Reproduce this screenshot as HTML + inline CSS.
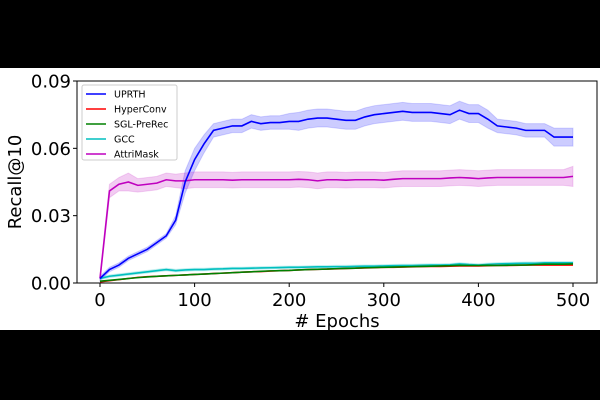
<!DOCTYPE html>
<html><head><meta charset="utf-8"><style>
html,body{margin:0;padding:0;background:#000;}
svg{display:block;font-family:"DejaVu Sans","Liberation Sans",sans-serif;}
</style></head><body>
<svg id="chart" width="600" height="400">
<rect x="0" y="68" width="600" height="262" fill="#fff"/>
<g id="bands"></g><g id="lines"></g><g id="axes"></g>
</svg>
<script>
const epochs=[0,10,20,30,40,50,60,70,80,90,100,110,120,130,140,150,160,170,180,190,200,210,220,230,240,250,260,270,280,290,300,310,320,330,340,350,360,370,380,390,400,410,420,430,440,450,460,470,480,490,500];
const uprth=[0.002,0.006,0.008,0.011,0.013,0.015,0.018,0.021,0.028,0.045,0.055,0.062,0.068,0.069,0.070,0.070,0.072,0.071,0.0715,0.0715,0.072,0.072,0.073,0.0735,0.0735,0.073,0.0725,0.0725,0.074,0.075,0.0755,0.076,0.0765,0.076,0.076,0.076,0.0755,0.075,0.077,0.0755,0.0755,0.073,0.070,0.0695,0.069,0.068,0.068,0.068,0.065,0.065,0.065];
const uprthErr=[0.001,0.001,0.001,0.001,0.001,0.001,0.001,0.001,0.002,0.005,0.005,0.004,0.003,0.003,0.003,0.003,0.003,0.003,0.003,0.003,0.0035,0.004,0.004,0.004,0.004,0.004,0.004,0.004,0.004,0.004,0.004,0.004,0.004,0.004,0.004,0.004,0.004,0.004,0.004,0.004,0.004,0.004,0.003,0.003,0.003,0.003,0.003,0.003,0.004,0.004,0.004];
const attri=[0.002,0.041,0.044,0.045,0.0435,0.044,0.0445,0.046,0.0455,0.0455,0.046,0.046,0.046,0.046,0.0458,0.046,0.046,0.046,0.046,0.046,0.046,0.0462,0.046,0.0455,0.046,0.046,0.0458,0.046,0.046,0.046,0.0458,0.0462,0.0465,0.0465,0.0465,0.0465,0.0465,0.0468,0.047,0.0468,0.0465,0.0468,0.047,0.047,0.047,0.047,0.047,0.047,0.047,0.047,0.0475];
const attriErr=[0.001,0.003,0.003,0.004,0.003,0.003,0.003,0.003,0.003,0.0035,0.0035,0.0035,0.0035,0.0035,0.0035,0.0035,0.0035,0.0035,0.0035,0.0035,0.0035,0.0035,0.0035,0.0035,0.0035,0.0035,0.0035,0.0035,0.0035,0.0035,0.0035,0.0035,0.0035,0.0035,0.0035,0.0035,0.0035,0.0035,0.0035,0.0035,0.0035,0.0035,0.0035,0.0035,0.0035,0.0035,0.0035,0.0035,0.0035,0.0035,0.0045];
const gcc=[0.002,0.003,0.0035,0.004,0.0045,0.005,0.0055,0.006,0.0055,0.0058,0.006,0.006,0.0062,0.0063,0.0065,0.0065,0.0066,0.0067,0.0068,0.0069,0.007,0.007,0.0071,0.0072,0.0072,0.0073,0.0073,0.0074,0.0075,0.0075,0.0076,0.0077,0.0078,0.0078,0.0079,0.008,0.008,0.0081,0.0085,0.0082,0.008,0.0083,0.0085,0.0086,0.0087,0.0088,0.0088,0.009,0.009,0.009,0.009];
const hyper=[0.0005,0.001,0.0015,0.002,0.0025,0.0028,0.003,0.0032,0.0034,0.0036,0.0038,0.004,0.0042,0.0044,0.0046,0.0048,0.005,0.0051,0.0053,0.0055,0.0056,0.0058,0.006,0.0061,0.0062,0.0063,0.0065,0.0066,0.0067,0.0068,0.007,0.007,0.0071,0.0072,0.0073,0.0074,0.0074,0.0075,0.0076,0.0076,0.0076,0.0077,0.0078,0.0078,0.0079,0.008,0.008,0.008,0.008,0.008,0.008];
const sgl=[0.0008,0.0012,0.0016,0.002,0.0024,0.0027,0.003,0.0032,0.0034,0.0036,0.0038,0.004,0.0042,0.0044,0.0046,0.0048,0.005,0.0052,0.0054,0.0055,0.0056,0.0058,0.006,0.0061,0.0062,0.0064,0.0065,0.0066,0.0068,0.0069,0.007,0.0071,0.0072,0.0073,0.0074,0.0075,0.0076,0.0077,0.0079,0.0078,0.0078,0.0079,0.0078,0.0079,0.008,0.008,0.0082,0.0084,0.0084,0.0084,0.0085];
const yTicks=[0,0.03,0.06,0.09];
const yTickLabels=["0.00","0.03","0.06","0.09"];
const xTicks=[0,100,200,300,400,500];
const seriesNames=["UPRTH","HyperConv","SGL-PreRec","GCC","AttriMask"];

const NS="http://www.w3.org/2000/svg";
const L=77,R=597,T=81,B=283;
const X=e=>100+e*(573-100)/500;
const Y=v=>B-v*(B-T)/0.09;
function mk(tag,attrs,parent){const el=document.createElementNS(NS,tag);for(const k in attrs)el.setAttribute(k,attrs[k]);parent.appendChild(el);return el;}
const bands=document.getElementById('bands'),lines=document.getElementById('lines'),axes=document.getElementById('axes');
function band(vals,errs,color,name){
  let d="M";
  epochs.forEach((e,i)=>{d+=X(e)+","+Y(vals[i]+errs[i])+" L";});
  for(let i=epochs.length-1;i>=0;i--){d+=X(epochs[i])+","+Y(vals[i]-errs[i])+(i?" L":" Z");}
  const p=mk('path',{d:d,fill:color,'fill-opacity':0.2,stroke:color,'stroke-opacity':0.15},bands);
  
  
}
function line(vals,color,name){
  const pts=epochs.map((e,i)=>X(e)+","+Y(vals[i])).join(" ");
  const p=mk('polyline',{points:pts,fill:'none',stroke:color,'stroke-width':1.6},lines);
  
  
}
const gErr=gcc.map(()=>0.0006);
band(uprth,uprthErr,'#0000ff','uprth-band');
band(attri,attriErr,'#bf00bf','attrimask-band');
band(gcc,gErr,'#00bfbf','gcc-band');
line(gcc,'#00bfbf','gcc-line');
line(hyper,'#ff0000','hyperconv-line');
line(sgl,'#008000','sgl-prerec-line');
line(attri,'#bf00bf','attrimask-line');
line(uprth,'#0000ff','uprth-line');
const frame=mk('rect',{x:L,y:T,width:R-L,height:B-T,fill:'none',stroke:'#000','stroke-width':1},axes);


yTicks.forEach((v,i)=>{
  mk('line',{x1:L-4,x2:L,y1:Y(v),y2:Y(v),stroke:'#000'},axes);
  const t=mk('text',{x:L-6,y:Y(v)+6.5,'text-anchor':'end','font-size':18},axes);
  t.textContent=yTickLabels[i];
  
  
});
xTicks.forEach(v=>{
  mk('line',{x1:X(v),x2:X(v),y1:B,y2:B+4,stroke:'#000'},axes);
  const t=mk('text',{x:X(v),y:B+23,'text-anchor':'middle','font-size':18},axes);
  t.textContent=v;
  
  
});
const xt=mk('text',{x:337,y:327,'text-anchor':'middle','font-size':18},axes);
xt.textContent="# Epochs";


const yt=mk('text',{x:0,y:0,'text-anchor':'middle','font-size':18,transform:'translate(21,182) rotate(-90)'},axes);
yt.textContent="Recall@10";


const lg=mk('g',{},axes);


mk('rect',{x:82,y:85,width:95,height:75,fill:'#fff',stroke:'#ccc',rx:2},lg);
const cols=['#0000ff','#ff0000','#008000','#00bfbf','#bf00bf'];
seriesNames.forEach((n,i)=>{
  const y=94+i*15;
  const g=mk('g',{},lg);
  
  
  mk('line',{x1:86,x2:106,y1:y,y2:y,stroke:cols[i],'stroke-width':1.6},g);
  const t=mk('text',{x:114,y:y+3.5,'font-size':9.5},g);
  t.textContent=n;
});
</script>
</body></html>
